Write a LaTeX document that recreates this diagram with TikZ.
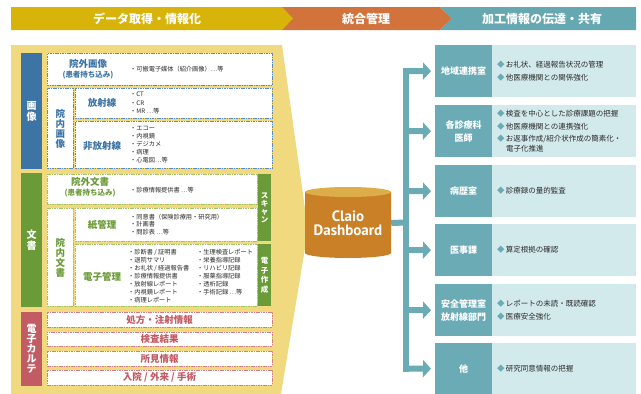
\documentclass[tikz,border=0pt]{standalone}
\usepackage{fontspec}
\setmainfont{Noto Sans CJK JP}
\newfontfamily\dbfont{PT Sans}
\usetikzlibrary{arrows.meta}
\definecolor{hdY}{HTML}{D8B40A}
\definecolor{hdO}{HTML}{D2733C}
\definecolor{hdT}{HTML}{65A8B2}
\definecolor{panelY}{HTML}{F0D97E}
\definecolor{cBlue}{HTML}{3D74A6}
\definecolor{cGreen}{HTML}{6B9B38}
\definecolor{cRed}{HTML}{C25B64}
\definecolor{dBlue}{HTML}{5A8CC0}
\definecolor{dGreen}{HTML}{A3C463}
\definecolor{dRed}{HTML}{D27E88}
\definecolor{tealD}{HTML}{6AABB6}
\definecolor{tealL}{HTML}{D3EAEC}
\definecolor{dbBody}{HTML}{C98027}
\definecolor{dbTop}{HTML}{DDAD4A}
\definecolor{txt}{HTML}{2A2A2A}
\tikzset{
  pbox/.style={rectangle, anchor=north west, inner sep=0pt, fill=white, line width=0.9pt, dash pattern=on 1.6pt off 0.8pt},
  bbox/.style={pbox, draw=dBlue},
  gbox/.style={pbox, draw=dGreen},
  rbox/.style={pbox, draw=dRed, text=cRed, font=\bfseries\fontsize{9.5}{10}\selectfont},
  bar/.style={rectangle, anchor=north west, inner sep=0pt, text=white, align=center},
  vlab/.style={font=\bfseries\fontsize{9.5}{10}\selectfont, align=center},
  lab/.style={font=\bfseries\fontsize{9.5}{11}\selectfont, align=center},
  sub/.style={font=\bfseries\fontsize{7.5}{9}\selectfont},
  lst/.style={anchor=west, inner sep=0pt, text=txt, align=left},
  hdtext/.style={text=white, font=\bfseries\fontsize{12}{14}\selectfont},
  tlab/.style={rectangle, anchor=north west, inner sep=0pt, fill=tealD, text=white, minimum width=57pt, minimum height=52pt, align=center, font=\bfseries\fontsize{9}{13}\selectfont},
  tcon/.style={rectangle, anchor=north west, inner sep=0pt, fill=tealL, minimum width=144pt, minimum height=52pt},
  titem/.style={anchor=west, inner sep=0pt, text=txt, align=left, font=\fontsize{7.5}{12.5}\selectfont},
  trunkline/.style={draw=tealD, line width=6pt},
  arrowline/.style={draw=tealD, line width=6pt, -{Triangle[length=8pt,width=17pt]}, shorten >=4pt}
}
\newcommand{\dia}{\textcolor{tealD}{◆}\,}
\begin{document}
\begin{tikzpicture}[x=1pt,y=-1pt]
\useasboundingbox (0,0) rectangle (641,394);
% header
\fill[hdY] (11,7) -- (282,7) -- (293,18.5) -- (282,30) -- (11,30) -- cycle;
\fill[hdO] (282,7) -- (440,7) -- (452,18.5) -- (440,30) -- (282,30) -- (293,18.5) -- cycle;
\fill[hdT] (440,7) -- (636,7) -- (636,30) -- (440,30) -- (452,18.5) -- cycle;
\node[hdtext] (h1) at (147,18.5) {データ取得・情報化};
\node[hdtext] (h2) at (366,18.5) {統合管理};
\node[hdtext] (h3) at (542,18.5) {加工情報の伝達・共有};
% panel
\fill[panelY] (11,45) -- (282,45) -- (308,230) -- (281,394) -- (11,394) -- cycle;
% category bars
\node[bar, fill=cBlue, minimum width=21pt, minimum height=116pt, font=\bfseries\fontsize{10}{11}\selectfont] (catImg) at (21,53) {画\\像};
\node[bar, fill=cGreen, minimum width=21pt, minimum height=134pt, font=\bfseries\fontsize{10}{11}\selectfont] (catDoc) at (21,173) {文\\書};
\node[bar, fill=cRed, minimum width=21pt, minimum height=74pt, font=\bfseries\fontsize{10}{10}\selectfont] (catKarte) at (21,312) {電\\子\\カ\\ル\\テ};
% image section
\node[bbox, minimum width=225pt, minimum height=32pt] (outImg) at (47,53) {};
\node[lab, text=cBlue] (outImgT) at (88,64) {院外画像};
\node[sub, text=cBlue] (outImgS) at (88,75.5) {(患者持ち込み)};
\node[lst, font=\fontsize{6.2}{8}\selectfont] (outImgL) at (130,69) {・可搬電子媒体（紹介画像）…等};
\node[bbox, minimum width=26pt, minimum height=80pt, vlab, text=cBlue] (inImg) at (47,88) {院\\内\\画\\像};
\node[bbox, minimum width=197pt, minimum height=30pt] (rad) at (75,88) {};
\node[lab, text=cBlue] (radT) at (102,103) {放射線};
\node[lst, font=\fontsize{6.2}{8.5}\selectfont] (radL) at (130,103) {・CT\\・CR\\・MR …等};
\node[bbox, minimum width=197pt, minimum height=47pt] (nonrad) at (75,121) {};
\node[lab, text=cBlue] (nonradT) at (102,146) {非放射線};
\node[lst, font=\fontsize{6.2}{8}\selectfont] (nonradL) at (130,145) {・エコー\\・内視鏡\\・デジカメ\\・病理\\・心電図…等};
% document section
\node[gbox, minimum width=210pt, minimum height=30pt] (outDoc) at (47,174) {};
\node[lab, text=cGreen] (outDocT) at (90,182) {院外文書};
\node[sub, text=cGreen] (outDocS) at (90,193.5) {(患者持ち込み)};
\node[lst, font=\fontsize{6.2}{8}\selectfont] (outDocL) at (130,190) {・診療情報提供書 …等};
\node[bar, fill=cGreen, minimum width=13pt, minimum height=67pt, font=\bfseries\fontsize{7.5}{7.8}\selectfont] (scan) at (258,174) {ス\\キ\\ャ\\ン};
\node[gbox, minimum width=26pt, minimum height=98pt, vlab, text=cGreen] (inDoc) at (47,208) {院\\内\\文\\書};
\node[gbox, minimum width=182pt, minimum height=33pt] (paper) at (75,208) {};
\node[lab, text=cGreen] (paperT) at (102,225) {紙管理};
\node[lst, font=\fontsize{6.2}{7.6}\selectfont] (paperL) at (130,224.5) {・同意書（保険診療用・研究用）\\・計画書\\・問診表 …等};
\node[gbox, minimum width=182pt, minimum height=62pt] (elec) at (75,244) {};
\node[lab, text=cGreen] (elecT) at (102,277) {電子管理};
\node[lst, font=\fontsize{6.2}{8}\selectfont] (elecL1) at (128,276) {・診断書 / 証明書\\・退院サマリ\\・お礼状 / 経過報告書\\・診療情報提供書\\・放射線レポート\\・内視鏡レポート\\・病理レポート};
\node[lst, font=\fontsize{6.2}{8}\selectfont] (elecL2) at (197,272) {・生理検査レポート\\・栄養指導記録\\・リハビリ記録\\・服薬指導記録\\・透析記録\\・手術記録 …等};
\node[bar, fill=cGreen, minimum width=13pt, minimum height=62pt, font=\bfseries\fontsize{7.5}{9.5}\selectfont] (made) at (258,244) {電\\子\\作\\成};
% karte section
\node[rbox, minimum width=225pt, minimum height=15pt, anchor=center] (k1) at (159.5,319.5) {処方・注射情報};
\node[rbox, minimum width=225pt, minimum height=14pt, anchor=center] (k2) at (159.5,339) {検査結果};
\node[rbox, minimum width=225pt, minimum height=15pt, anchor=center] (k3) at (159.5,358.5) {所見情報};
\node[rbox, minimum width=225pt, minimum height=15pt, anchor=center] (k4) at (159.5,377.5) {入院 / 外来 / 手術};
% database cylinder
\fill[dbBody] (305,192) -- (305,253) arc[start angle=180, end angle=0, x radius=43, y radius=5] -- (391,192) -- cycle;
\fill[dbTop] (348,192) ellipse [x radius=43, y radius=5];
\node[rectangle, inner sep=0pt, minimum width=86pt, minimum height=71pt, text=white, align=center, font=\dbfont\bfseries\fontsize{15}{15.5}\selectfont] (db) at (348,223) {\raisebox{-2pt}{Claio}\\Dashboard};
% right boxes
\node[tlab] (l1) at (435,45) {地域連携室};
\node[tcon] (c1) at (492,45) {};
\node[titem] (i1) at (497,71) {\dia お礼状、経過報告状況の管理\\\dia 他医療機関との関係強化};
\node[tlab] (l2) at (435,105) {各診療科\\医師};
\node[tcon] (c2) at (492,105) {};
\node[titem] (i2) at (497,131) {\dia 検査を中心とした診療課題の把握\\\dia 他医療機関との連携強化\\\dia お返事作成/紹介状作成の簡素化・\\[-3pt]\hspace*{9pt}電子化推進};
\node[tlab] (l3) at (435,165) {病歴室};
\node[tcon] (c3) at (492,165) {};
\node[titem] (i3) at (497,191) {\dia 診療録の量的監査};
\node[tlab] (l4) at (435,224) {医事課};
\node[tcon] (c4) at (492,224) {};
\node[titem] (i4) at (497,250) {\dia 算定根拠の確認};
\node[tlab] (l5) at (435,284) {安全管理室\\放射線部門};
\node[tcon] (c5) at (492,284) {};
\node[titem] (i5) at (497,310) {\dia レポートの未読・既読確認\\\dia 医療安全強化};
\node[tlab, minimum height=51pt] (l6) at (435,343) {他};
\node[tcon, minimum height=51pt] (c6) at (492,343) {};
\node[titem] (i6) at (497,368.5) {\dia 研究同意情報の把握};
% connectors
\coordinate (jc) at (406,222.5);
\coordinate (j1) at (406,71);
\coordinate (j2) at (406,131);
\coordinate (j3) at (406,191);
\coordinate (j4) at (406,250);
\coordinate (j5) at (406,310);
\coordinate (j6) at (406,368.5);
\draw[trunkline, line cap=rect] (j1) -- (j6);
\draw[trunkline] (db.east) -- (jc);
\draw[arrowline] (j1) -- (l1.west);
\draw[arrowline] (j2) -- (l2.west);
\draw[arrowline] (j3) -- (l3.west);
\draw[arrowline] (j4) -- (l4.west);
\draw[arrowline] (j5) -- (l5.west);
\draw[arrowline] (j6) -- (l6.west);
\end{tikzpicture}
\end{document}
